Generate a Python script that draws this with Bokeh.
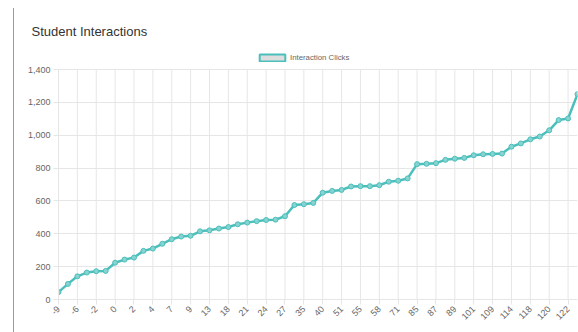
import math
from bokeh.plotting import figure
from bokeh.models import (ColumnDataSource, FixedTicker, NumeralTickFormatter,
                          Legend, LegendItem, Range1d)
from bokeh.embed import file_html
from bokeh.resources import INLINE

# ---- data ----
tick_labels = ["-9", "-6", "-2", "0", "2", "4", "7", "9", "13", "18", "21", "24", "27", "35",
               "40", "51", "55", "58", "71", "85", "87", "89", "101", "109", "114", "118",
               "120", "122"]
clicks = [45, 95, 141, 164, 172, 174, 224, 243, 255, 296,
          310, 339, 367, 383, 388, 415, 421, 432, 441, 458,
          468, 477, 484, 486, 507, 575, 580, 588, 650, 661,
          667, 688, 690, 690, 696, 717, 723, 737, 824, 826,
          830, 850, 857, 862, 878, 884, 886, 888, 930, 950,
          975, 992, 1030, 1092, 1102, 1250]
y_ticks = [0, 200, 400, 600, 800, 1000, 1200, 1400]
series_name = "Interaction Clicks"
chart_title = "Student Interactions"

idx = list(range(len(clicks)))
tick_pos = idx[::2][:len(tick_labels)]
y_top = y_ticks[-1]

TEAL = "#4bbfbc"
GRID = "#e6e6e6"
TXT = "#666666"
FONT = "Liberation Sans"

src = ColumnDataSource(dict(x=idx, y=clicks))
grid_src = ColumnDataSource(dict(x=tick_pos, y0=[0] * len(tick_pos), y1=[y_top] * len(tick_pos)))

# frame extends above the top tick to host the legend (frame 250px, ticks span 230px)
p = figure(width=565, height=324, output_backend="svg", toolbar_location=None,
           x_range=Range1d(0, len(clicks) - 1), y_range=Range1d(0, y_top * 250 / 230),
           min_border_left=44, min_border_right=2, min_border_bottom=33, min_border_top=41)
p.margin = (8, 0, 0, 13)
p.styles = {"border-left": "1px solid #9a9a9a"}
p.outline_line_color = None
p.background_fill_color = "white"
p.border_fill_color = "white"

p.title.text = chart_title
p.title.text_font = FONT
p.title.text_font_size = "13px"
p.title.text_font_style = "normal"
p.title.text_color = "#333333"
p.title.offset = -27
p.title.vertical_align = "top"
p.title.standoff = 18

# vertical grid lines, bounded to the tick range
p.segment("x", "y0", "x", "y1", source=grid_src, line_color=GRID, line_width=1)

p.line("x", "y", source=src, line_color=TEAL, line_width=2.5)
p.scatter("x", "y", source=src, size=5, line_color=TEAL, fill_color="#86d3d0", line_width=1)

nan = float("nan")
dummy = p.quad(left=[nan], right=[nan], top=[nan], bottom=[nan], fill_color="#dddddd",
               line_color=TEAL, line_width=2)
legend = Legend(items=[LegendItem(label=series_name, renderers=[dummy])],
                orientation="horizontal", location=(198, 237),
                glyph_width=32, glyph_height=9, label_text_font=FONT,
                label_text_font_size="7.8px", label_text_color=TXT,
                border_line_color=None, background_fill_alpha=0,
                padding=2, margin=0, label_standoff=2, label_height=9)
p.add_layout(legend, "center")

# axes
p.xaxis.ticker = FixedTicker(ticks=tick_pos)
p.xaxis.major_label_overrides = {t: l for t, l in zip(tick_pos, tick_labels)}
p.xaxis.major_label_orientation = math.pi / 4
p.yaxis.ticker = FixedTicker(ticks=y_ticks)
p.yaxis.bounds = (0, y_top)
p.yaxis.formatter = NumeralTickFormatter(format="0,0")
for ax in (p.xaxis, p.yaxis):
    ax.axis_line_color = GRID
    ax.major_tick_line_color = GRID
    ax.major_tick_in = 0
    ax.major_tick_out = 5
    ax.minor_tick_line_color = None
    ax.major_label_text_font = FONT
    ax.major_label_text_font_size = "9px"
    ax.major_label_text_color = TXT
    ax.major_label_standoff = 3
p.xgrid.grid_line_color = None
p.ygrid.ticker = FixedTicker(ticks=y_ticks)
p.ygrid.grid_line_color = GRID

open("out.html", "w").write(file_html(p, INLINE))
